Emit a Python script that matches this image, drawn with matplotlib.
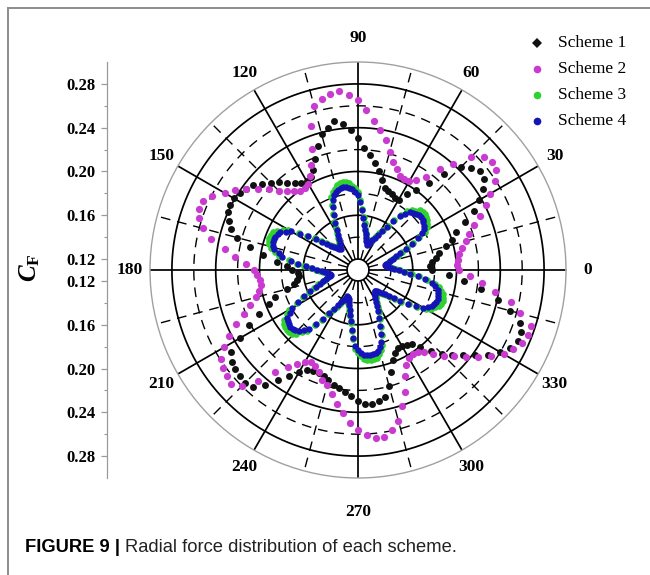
import numpy as np
import matplotlib
matplotlib.use("Agg")
import matplotlib.pyplot as plt
from matplotlib.lines import Line2D

plt.rcParams['font.family'] = ['Liberation Serif', 'DejaVu Serif']
plt.rcParams['mathtext.fontset'] = 'custom'
plt.rcParams['mathtext.rm'] = 'Liberation Serif:bold'
plt.rcParams['mathtext.it'] = 'Liberation Serif:italic:bold'
plt.rcParams['mathtext.bf'] = 'Liberation Serif:bold'

# ---------------- data ----------------
# rotor position (deg); schemes 1-2 sampled every 3 deg, schemes 3-4 every 2 deg
angles_12 = np.arange(0, 360, 3)
angles_34 = np.arange(0, 360, 2)

scheme1 = [
    0.178, 0.176, 0.178, 0.182, 0.186, 0.193, 0.200, 0.206, 0.217, 0.229,
    0.238, 0.2465, 0.252, 0.253, 0.2495, 0.2435, 0.2275, 0.2127, 0.2005, 0.193,
    0.184, 0.184, 0.186, 0.1875, 0.189, 0.1955, 0.2025, 0.209, 0.2155, 0.222,
    0.231, 0.2385, 0.244, 0.2475, 0.243, 0.2385, 0.229, 0.219, 0.210, 0.2055,
    0.2035, 0.205, 0.2085, 0.2125, 0.218, 0.2225, 0.228, 0.233, 0.2365, 0.239,
    0.241, 0.2412, 0.2403, 0.236, 0.232, 0.2245, 0.211, 0.198, 0.184, 0.175,
    0.170, 0.165, 0.164, 0.166, 0.170, 0.1775, 0.190, 0.1975, 0.209, 0.2215,
    0.2345, 0.248, 0.2525, 0.254, 0.2545, 0.2555, 0.2535, 0.245, 0.234, 0.225,
    0.218, 0.2125, 0.2105, 0.2105, 0.2118, 0.2142, 0.217, 0.2192, 0.222, 0.2255,
    0.2296, 0.2323, 0.2327, 0.231, 0.229, 0.220, 0.208, 0.198, 0.1925, 0.1903,
    0.1905, 0.1915, 0.194, 0.200, 0.210, 0.218, 0.2255, 0.234, 0.242, 0.252,
    0.260, 0.266, 0.2695, 0.269, 0.266, 0.254, 0.241, 0.2235, 0.2075, 0.193,
]

scheme2 = [
    0.202, 0.2005, 0.2015, 0.2035, 0.207, 0.212, 0.217, 0.2235, 0.232, 0.241,
    0.2495, 0.259, 0.2655, 0.267, 0.2645, 0.2555, 0.240, 0.2285, 0.2155, 0.208,
    0.2035, 0.203, 0.204, 0.209, 0.2135, 0.222, 0.2315, 0.2395, 0.247, 0.256,
    0.265, 0.2705, 0.274, 0.273, 0.270, 0.2655, 0.248, 0.2285, 0.215, 0.206,
    0.2005, 0.199, 0.1995, 0.2025, 0.2075, 0.2125, 0.220, 0.227, 0.236, 0.2445,
    0.2505, 0.2595, 0.265, 0.266, 0.2625, 0.257, 0.247, 0.233, 0.223, 0.212,
    0.205, 0.2025, 0.200, 0.200, 0.202, 0.2065, 0.2135, 0.222, 0.232, 0.242,
    0.251, 0.259, 0.262, 0.264, 0.2655, 0.2595, 0.246, 0.230, 0.219, 0.212,
    0.2075, 0.2045, 0.206, 0.210, 0.2155, 0.219, 0.226, 0.234, 0.241, 0.250,
    0.256, 0.2605, 0.264, 0.264, 0.2595, 0.2525, 0.2405, 0.229, 0.216, 0.2075,
    0.2025, 0.2015, 0.203, 0.2065, 0.213, 0.221, 0.228, 0.237, 0.245, 0.255,
    0.2635, 0.269, 0.2735, 0.2765, 0.2765, 0.263, 0.2525, 0.2365, 0.2235, 0.2125,
]

scheme3 = [
    0.1485, 0.1448, 0.1416, 0.1394, 0.1375, 0.1362, 0.1375, 0.1394, 0.1416, 0.1448,
    0.1485, 0.1531, 0.1590, 0.1663, 0.1736, 0.1803, 0.1839, 0.1855, 0.1884, 0.1893,
    0.1897, 0.1893, 0.1884, 0.1855, 0.1839, 0.1803, 0.1736, 0.1663, 0.1590, 0.1531,
    0.1485, 0.1448, 0.1416, 0.1394, 0.1375, 0.1362, 0.1375, 0.1394, 0.1416, 0.1448,
    0.1485, 0.1531, 0.1590, 0.1663, 0.1736, 0.1811, 0.1847, 0.1870, 0.1899, 0.1908,
    0.1912, 0.1908, 0.1899, 0.1870, 0.1847, 0.1811, 0.1736, 0.1663, 0.1590, 0.1531,
    0.1485, 0.1448, 0.1416, 0.1394, 0.1375, 0.1362, 0.1375, 0.1394, 0.1416, 0.1448,
    0.1485, 0.1531, 0.1590, 0.1663, 0.1736, 0.1836, 0.1872, 0.1920, 0.1949, 0.1958,
    0.1962, 0.1958, 0.1949, 0.1920, 0.1872, 0.1836, 0.1736, 0.1663, 0.1590, 0.1531,
    0.1485, 0.1448, 0.1416, 0.1394, 0.1375, 0.1362, 0.1375, 0.1394, 0.1416, 0.1448,
    0.1485, 0.1531, 0.1590, 0.1663, 0.1736, 0.1831, 0.1867, 0.1910, 0.1939, 0.1948,
    0.1952, 0.1948, 0.1939, 0.1910, 0.1867, 0.1831, 0.1736, 0.1663, 0.1590, 0.1531,
    0.1485, 0.1448, 0.1416, 0.1394, 0.1375, 0.1375, 0.1394, 0.1416, 0.1448, 0.1485,
    0.1531, 0.1590, 0.1663, 0.1736, 0.1821, 0.1857, 0.1890, 0.1919, 0.1928, 0.1932,
    0.1928, 0.1919, 0.1890, 0.1857, 0.1821, 0.1736, 0.1663, 0.1590, 0.1531, 0.1485,
    0.1448, 0.1416, 0.1394, 0.1375, 0.1362, 0.1362, 0.1375, 0.1394, 0.1416, 0.1448,
    0.1485, 0.1531, 0.1590, 0.1663, 0.1736, 0.1816, 0.1852, 0.1880, 0.1909, 0.1918,
    0.1922, 0.1918, 0.1909, 0.1880, 0.1852, 0.1816, 0.1736, 0.1663, 0.1590, 0.1531,
]

scheme4 = [
    0.1470, 0.1433, 0.1401, 0.1379, 0.1360, 0.1347, 0.1360, 0.1379, 0.1401, 0.1433,
    0.1470, 0.1516, 0.1575, 0.1648, 0.1721, 0.1773, 0.1809, 0.1825, 0.1839, 0.1848,
    0.1852, 0.1848, 0.1839, 0.1825, 0.1809, 0.1773, 0.1721, 0.1648, 0.1575, 0.1516,
    0.1470, 0.1433, 0.1401, 0.1379, 0.1360, 0.1347, 0.1360, 0.1379, 0.1401, 0.1433,
    0.1470, 0.1516, 0.1575, 0.1648, 0.1721, 0.1781, 0.1817, 0.1840, 0.1854, 0.1863,
    0.1867, 0.1863, 0.1854, 0.1840, 0.1817, 0.1781, 0.1721, 0.1648, 0.1575, 0.1516,
    0.1470, 0.1433, 0.1401, 0.1379, 0.1360, 0.1347, 0.1360, 0.1379, 0.1401, 0.1433,
    0.1470, 0.1516, 0.1575, 0.1648, 0.1721, 0.1806, 0.1842, 0.1890, 0.1904, 0.1913,
    0.1917, 0.1913, 0.1904, 0.1890, 0.1842, 0.1806, 0.1721, 0.1648, 0.1575, 0.1516,
    0.1470, 0.1433, 0.1401, 0.1379, 0.1360, 0.1347, 0.1360, 0.1379, 0.1401, 0.1433,
    0.1470, 0.1516, 0.1575, 0.1648, 0.1721, 0.1801, 0.1837, 0.1880, 0.1894, 0.1903,
    0.1907, 0.1903, 0.1894, 0.1880, 0.1837, 0.1801, 0.1721, 0.1648, 0.1575, 0.1516,
    0.1470, 0.1433, 0.1401, 0.1379, 0.1360, 0.1360, 0.1379, 0.1401, 0.1433, 0.1470,
    0.1516, 0.1575, 0.1648, 0.1721, 0.1791, 0.1827, 0.1860, 0.1874, 0.1883, 0.1887,
    0.1883, 0.1874, 0.1860, 0.1827, 0.1791, 0.1721, 0.1648, 0.1575, 0.1516, 0.1470,
    0.1433, 0.1401, 0.1379, 0.1360, 0.1347, 0.1347, 0.1360, 0.1379, 0.1401, 0.1433,
    0.1470, 0.1516, 0.1575, 0.1648, 0.1721, 0.1786, 0.1822, 0.1850, 0.1864, 0.1873,
    0.1877, 0.1873, 0.1864, 0.1850, 0.1822, 0.1786, 0.1721, 0.1648, 0.1575, 0.1516,
]

series_names = ['Scheme 1', 'Scheme 2', 'Scheme 3', 'Scheme 4']
series_colors = ['#111111', '#c83ad0', '#2fd22f', '#1414b8']

radial_major = [0.16, 0.20, 0.24, 0.28]
radial_minor = [0.14, 0.18, 0.22, 0.26]
axis_ticks = [0.12, 0.16, 0.20, 0.24, 0.28]
axis_tick_labels = ['0.12', '0.16', '0.20', '0.24', '0.28']
axis_minor = [0.14, 0.18, 0.22, 0.26]
angle_major = list(range(0, 360, 30))
angle_minor = list(range(15, 360, 30))
r_min, r_max, r_origin = 0.12, 0.30, 0.11

caption_bold = 'FIGURE 9 |'
caption_text = 'Radial force distribution of each scheme.'

# ---------------- layout ----------------
W, H = 650, 575
fig = plt.figure(figsize=(W / 100, H / 100), dpi=100)
cx, cy, R = 358, 270, 208

ax = fig.add_axes([(cx - R) / W, (H - cy - R) / H, 2 * R / W, 2 * R / H],
                  projection='polar')
ax.set_rlim(r_min, r_max)
ax.set_rorigin(r_origin)
ax.set_xticks([])
ax.set_yticks([])
ax.grid(False)
ax.spines['polar'].set_color('#a0a0a0')
ax.spines['polar'].set_linewidth(1.0)
ax.spines['inner'].set_color('black')
ax.spines['inner'].set_linewidth(1.2)

full = np.linspace(0, 2 * np.pi, 721)
dash = (0, (7, 5))
for r in radial_major:
    ax.plot(full, np.full_like(full, r), color='black', lw=1.25, zorder=1)
for r in radial_minor:
    ax.plot(full, np.full_like(full, r), color='black', lw=1.0, ls=dash, zorder=1)
for a in angle_major:
    t = np.deg2rad(a)
    ax.plot([t, t], [r_min, r_max], color='black', lw=1.25, zorder=1)
for a in angle_minor:
    t = np.deg2rad(a)
    ax.plot([t, t], [r_min, r_max], color='black', lw=1.0, ls=dash, zorder=1)

# scatter series
ax.plot(np.deg2rad(angles_12), scheme1, 'o', ms=5.0, color=series_colors[0],
        mew=0, zorder=3)
ax.plot(np.deg2rad(angles_12), scheme2, 'o', ms=5.2, color=series_colors[1],
        mew=0, zorder=4)
ax.plot(np.deg2rad(angles_34), scheme3, 'o', ms=4.8, color=series_colors[2],
        mew=0, zorder=5)
ax.plot(np.deg2rad(angles_34), scheme4, 'o', ms=4.6, color=series_colors[3],
        mew=0, zorder=6)

# angle labels
label_px = {0: 230, 90: 232, 180: 228, 270: 242}
px_to_r = (r_max - r_origin) / R
for a in angle_major:
    p = label_px.get(a, 227)
    ax.text(np.deg2rad(a), r_origin + p * px_to_r, str(a), ha='center',
            va='center', fontsize=12.5, fontweight='bold', clip_on=False)

# left value axis (mirrored about the pole)
axy = fig.add_axes([107 / W, (H - cy - R) / H, 0.0001, 2 * R / H])
span = r_max - r_origin
axy.set_ylim(-span, span)
axy.set_xticks([])
for s in ['top', 'right', 'bottom']:
    axy.spines[s].set_visible(False)
axy.spines['left'].set_color('#9a9a9a')
axy.spines['left'].set_linewidth(0.9)
pos = [v - r_origin for v in axis_ticks] + [-(v - r_origin) for v in axis_ticks]
axy.set_yticks(pos)
axy.set_yticklabels(axis_tick_labels + axis_tick_labels, fontsize=12,
                    fontweight='bold')
mpos = [v - r_origin for v in axis_minor] + [-(v - r_origin) for v in axis_minor]
axy.set_yticks(mpos, minor=True)
axy.tick_params(axis='y', which='major', direction='out', length=4, width=0.9,
                color='#9a9a9a', pad=4)
axy.tick_params(axis='y', which='minor', direction='out', length=2.5,
                width=0.8, color='#9a9a9a')

fig.text(30 / W, 1 - 268 / H, r'$C_{\mathrm{F}}$', rotation=90, fontsize=18,
         ha='center', va='center')

# legend
markers = ['D', 'o', 'o', 'o']
msizes = [5.0, 5.5, 5.5, 5.5]
rows = [43, 69, 95, 121]
for name, col, mk, msz, yy in zip(series_names, series_colors, markers, msizes, rows):
    fig.add_artist(Line2D([537 / W], [1 - yy / H], marker=mk, ms=msz, color=col,
                          mew=0, ls='none', transform=fig.transFigure))
    fig.text(558 / W, 1 - yy / H, name, fontsize=12.5, va='center', ha='left')

# panel frame
frame_col = '#8c8c8c'
fig.add_artist(Line2D([8 / W, 8 / W], [0, 1 - 8 / H], color=frame_col, lw=1.4,
                      transform=fig.transFigure))
fig.add_artist(Line2D([8 / W, 1], [1 - 8 / H, 1 - 8 / H], color=frame_col, lw=1.4,
                      transform=fig.transFigure))

# caption
cap_fam = ['Liberation Sans Narrow', 'Liberation Sans', 'DejaVu Sans']
t1 = fig.text(25 / W, 1 - 548 / H, caption_bold, fontsize=13.2, fontweight='bold',
              family=cap_fam, va='center', ha='left')
fig.canvas.draw()
bb = t1.get_window_extent()
fig.text((bb.x1 + 5) / W, 1 - 548 / H, caption_text, fontsize=13.2,
         family=cap_fam, va='center', ha='left', color='#222222')

fig.savefig('out.png', dpi=100)
